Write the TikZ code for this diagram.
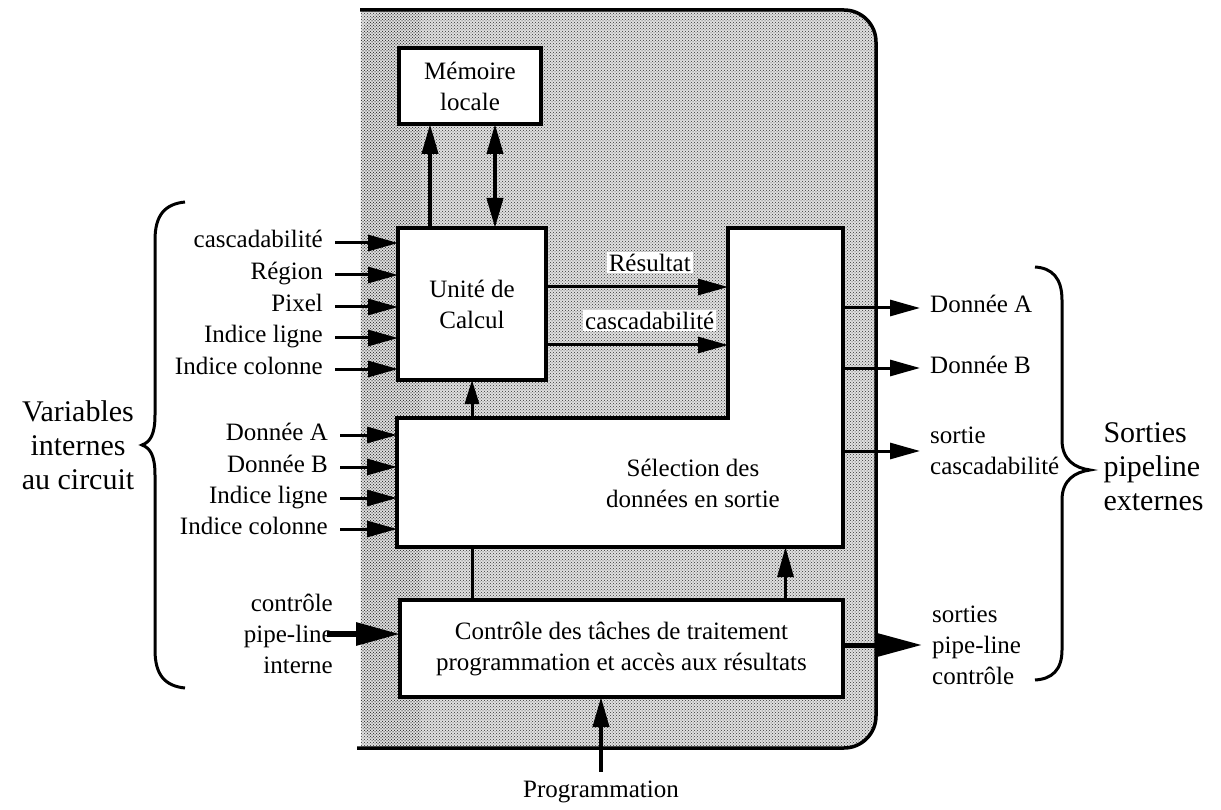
\documentclass[tikz,border=0pt]{standalone}
\usepackage{fontspec}
\setmainfont{Liberation Serif}
\usetikzlibrary{arrows.meta, positioning, patterns}
\newcommand{\policebloc}{\fontsize{25}{31}\selectfont}
\newcommand{\policegrande}{\fontsize{30}{34}\selectfont}

\begin{document}
\begin{tikzpicture}[x=1pt, y=-1pt, >={Triangle[length=30pt,width=16pt]},
    bloc/.style={draw, line width=4pt, fill=white, align=center, font=\policebloc, inner sep=0pt, outer sep=0pt, anchor=north west},
    fleche/.style={->, line width=3pt},
    grossefleche/.style={-{Triangle[length=44pt,width=22pt]}, line width=6pt},
    etiqentree/.style={font=\policebloc, anchor=east, inner xsep=12pt, inner ysep=0pt, text height=16pt, text depth=6pt},
    etiqsortie/.style={font=\policebloc, anchor=west, inner xsep=10pt, inner ysep=0pt, text height=16pt, text depth=6pt},
    etiqfleche/.style={font=\policebloc, fill=white, inner sep=2pt, text depth=0pt}]
    \useasboundingbox (0,0) rectangle (1221,810);

    % Circuit area
    \fill[black!12, rounded corners=32pt] (360.5,10) rectangle (876,748);
    \fill[black!12] (360.5,10) rectangle (420,748);
    \fill[pattern=crosshatch dots, pattern color=black!80, rounded corners=32pt] (360.5,10) rectangle (876,748);
    \fill[pattern=crosshatch dots, pattern color=black!80] (360.5,10) rectangle (420,748);
    \draw[line width=3.5pt, rounded corners=32pt] (360,10) -- (876,10) -- (876,748) -- (357,748);

    % Local memory
    \node[bloc, minimum width=142, minimum height=76] (memoire) at (399,48) {Mémoire\\locale};

    % Computing unit
    \node[bloc, minimum width=148, minimum height=152] (unite) at (398,228) {Unité de\\Calcul};

    % Output data selection (L shape)
    \node[minimum width=446, minimum height=129, anchor=north west, inner sep=0pt, outer sep=0pt] (selg) at (397,418) {};
    \node[minimum width=115, minimum height=190, anchor=north west, inner sep=0pt, outer sep=0pt] (selh) at (728,228) {};
    \draw[line width=4pt, fill=white] (selg.north west) -- (selh.south west) -- (selh.north west) -- (selh.north east) -- (selg.south east) -- (selg.south west) -- cycle;
    \node[font=\policebloc, align=center] (selection) at (693,483) {Sélection des\\données en sortie};

    % Task control
    \node[bloc, minimum width=443, minimum height=97] (controle) at (400,600) {Contrôle des tâches de traitement\\programmation et accès aux résultats};

    % Memory arrows
    \draw[fleche, line width=4pt] ([xshift=-42pt]unite.north) -- ([xshift=-40pt]memoire.south);
    \draw[<->, line width=4pt] ([xshift=23pt]unite.north) -- ([xshift=25pt]memoire.south);

    % Unit inputs
    \node[etiqentree] (cascin) at (335,243) {cascadabilité};
    \node[etiqentree] (region) at (335,275) {Région};
    \node[etiqentree] (pixel) at (335,307) {Pixel};
    \node[etiqentree] (ligneu) at (335,338) {Indice ligne};
    \node[etiqentree] (colonneu) at (335,369) {Indice colonne};
    \draw[fleche] (cascin.east) -- (cascin.east -| unite.west);
    \draw[fleche] (region.east) -- (region.east -| unite.west);
    \draw[fleche] (pixel.east) -- (pixel.east -| unite.west);
    \draw[fleche] (ligneu.east) -- (ligneu.east -| unite.west);
    \draw[fleche] (colonneu.east) -- (colonneu.east -| unite.west);

    % Selection inputs
    \node[etiqentree] (donneea) at (340,435) {Donnée A};
    \node[etiqentree] (donneeb) at (340,467) {Donnée B};
    \node[etiqentree] (lignes) at (340,498) {Indice ligne};
    \node[etiqentree] (colonnes) at (340,529) {Indice colonne};
    \draw[fleche] (donneea.east) -- (donneea.east -| selg.west);
    \draw[fleche] (donneeb.east) -- (donneeb.east -| selg.west);
    \draw[fleche] (lignes.east) -- (lignes.east -| selg.west);
    \draw[fleche] (colonnes.east) -- (colonnes.east -| selg.west);

    % Unit to selection
    \coordinate (res) at ([yshift=17pt]unite.east);
    \coordinate (casc) at ([yshift=-41pt]unite.east);
    \draw[fleche] (res) -- (res -| selh.west) node[etiqfleche, pos=0.57, above=12pt] {Résultat};
    \draw[fleche] (casc) -- (casc -| selh.west) node[etiqfleche, pos=0.57, above=12pt] {cascadabilité};
    \draw[-{Triangle[length=24pt,width=14pt]}, line width=3pt] (unite.south |- selg.north) -- (unite.south);

    % Control links
    \draw[line width=3pt] (unite.south |- selg.south) -- (unite.south |- controle.north);
    \draw[fleche] (selh.south |- controle.north) -- (selh.south |- selg.south);
    \node[font=\policebloc, inner sep=9pt] (prog) at (601,792) {Programmation};
    \draw[fleche, line width=4pt] (prog.north) -- (prog.north |- controle.south);

    % Internal pipeline control
    \node[font=\policebloc, align=right, anchor=east, inner sep=0pt] (pipein) at (333,634) {contrôle\\pipe-line\\interne};
    \draw[grossefleche] ([xshift=-6pt]pipein.east) -- (pipein.east -| controle.west);

    % Outputs
    \node[etiqsortie] (sortiea) at (920,308) {Donnée A};
    \node[etiqsortie] (sortieb) at (920,368) {Donnée B};
    \node[font=\policebloc, align=left, anchor=west, inner xsep=10pt] (sortiecasc) at (920,451) {sortie\\cascadabilité};
    \node[font=\policebloc, align=left, anchor=west, inner xsep=10pt] (pipeout) at (922,645) {sorties\\pipe-line\\contrôle};
    \draw[fleche] (sortiea.west -| selh.east) -- (sortiea.west);
    \draw[fleche] (sortieb.west -| selh.east) -- (sortieb.west);
    \draw[fleche] (sortiecasc.west -| selh.east) -- (sortiecasc.west);
    \draw[grossefleche, line width=5pt] (pipeout.west -| controle.east) -- (pipeout.west);

    % Braces
    \draw[line width=3pt] (185,202) .. controls (165,204) and (155,215) .. (155,240) -- (155,415) .. controls (155,435) and (150,442) .. (142,445) .. controls (150,448) and (155,455) .. (155,475) -- (155,650) .. controls (155,675) and (165,686) .. (185,688);
    \draw[line width=3pt] (1035,267) .. controls (1052,268) and (1062,278) .. (1062,300) -- (1062,440) .. controls (1062,460) and (1075,468) .. (1090,470) .. controls (1075,472) and (1062,480) .. (1062,500) -- (1062,650) .. controls (1062,670) and (1052,679) .. (1035,680);
    \node[font=\policegrande, align=center] (variables) at (78,445) {Variables\\internes\\au circuit};
    \node[font=\policegrande, align=left, anchor=west] (externes) at (1100,467) {Sorties\\pipeline\\externes};
\end{tikzpicture}
\end{document}
